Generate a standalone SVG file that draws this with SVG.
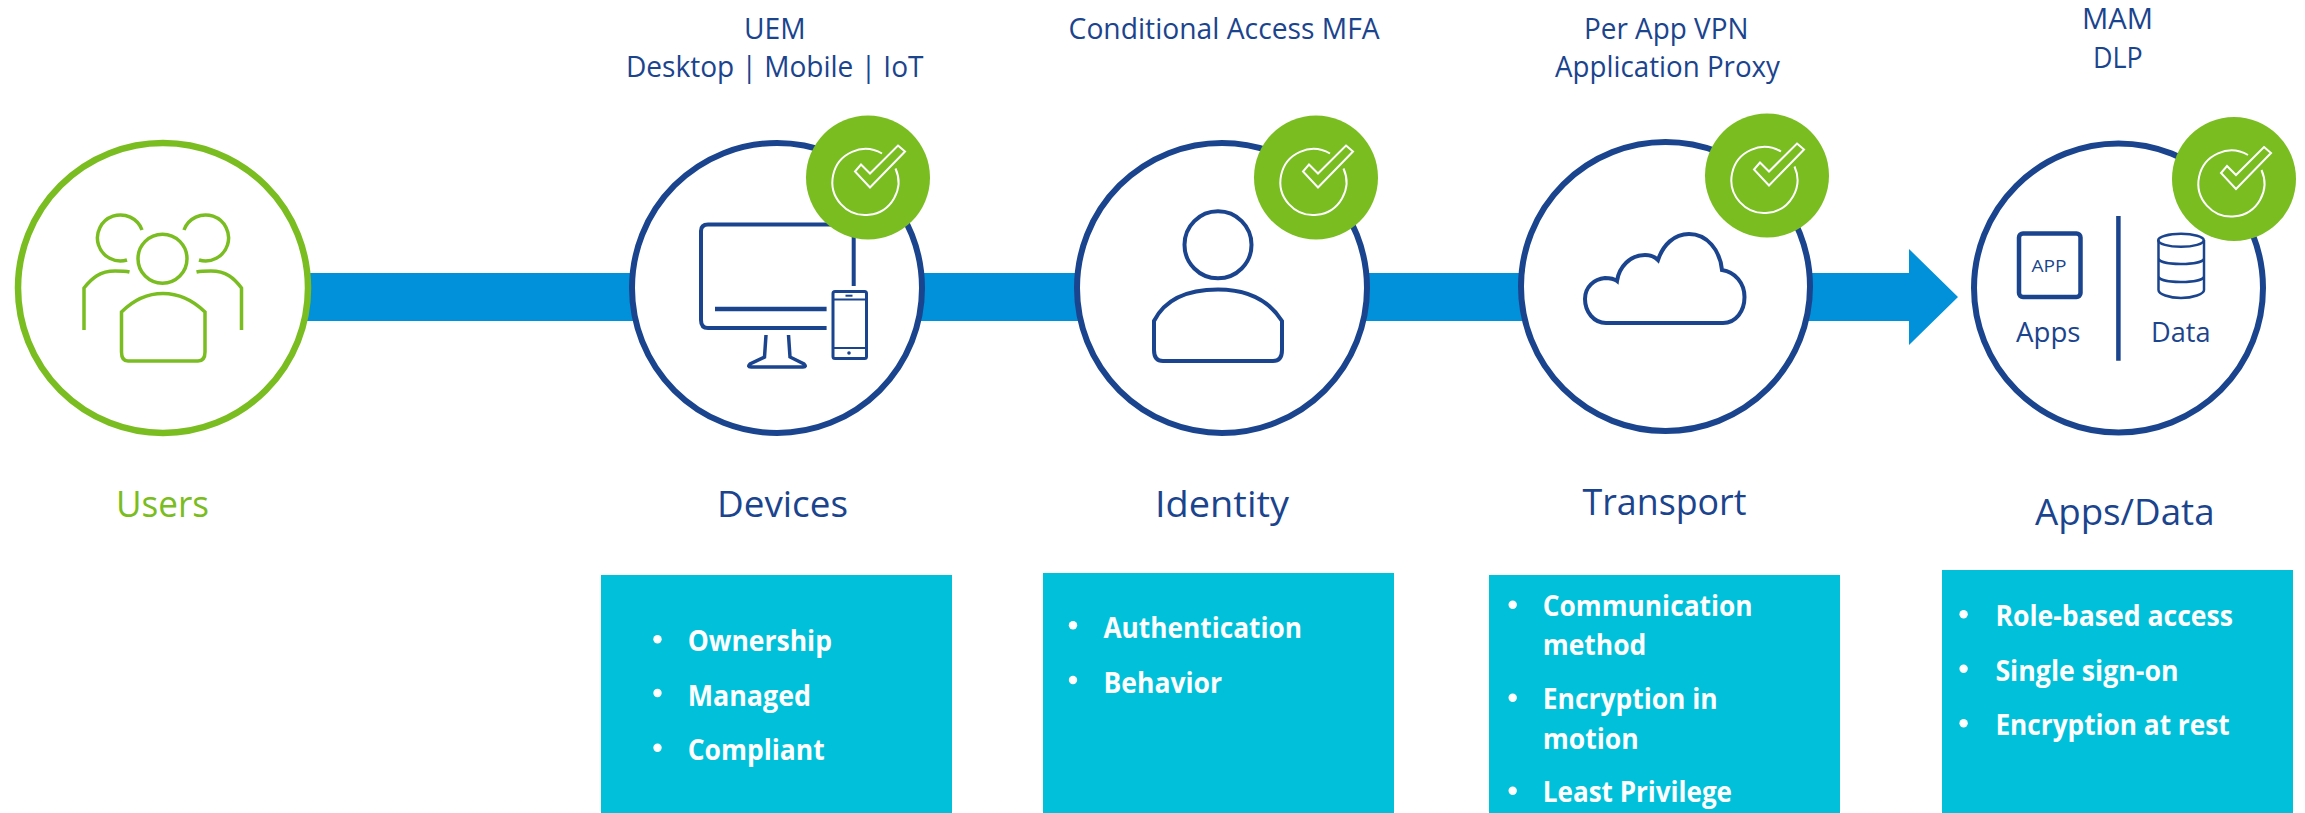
<svg xmlns="http://www.w3.org/2000/svg" xmlns:xlink="http://www.w3.org/1999/xlink" width="2305" height="813" viewBox="0 0 2305 813">
<style>
text{font-family:"Open Sans","Liberation Sans",sans-serif}
.t{fill:#1B448E}
.h{font-size:29.5px}
.n{font-size:36.5px}
.u{fill:#7ABD21}
.b{font-size:28.5px;font-weight:700;fill:#fff}
.o{fill:#fff;stroke:#1B448E;stroke-width:6}
.ug{fill:#fff;stroke:#7ABD21;stroke-width:6.5}
.i{fill:none;stroke:#1B448E;stroke-width:4}
.ui{fill:none;stroke:#7ABD21;stroke-width:3.5}
.box{fill:#00C1D9}
.dot{fill:#fff}
</style>
<defs>
<g id="badge">
<circle r="62" fill="#7ABD21"/>
<path d="M14 -24A33 33 0 1 0 27.5 -9M30 -32L37 -26L2 10L-13 -6L-7 -13L2 -4Z" fill="none" stroke="#fff" stroke-width="2"/>
</g>
</defs>
<g id="connectors">
<polygon points="300,273 1909,273 1909,249 1958,297 1909,345 1909,321 300,321" fill="#0091DA"/>
</g>
<g id="users">
<ellipse class="ug" cx="163" cy="288" rx="145" ry="145"/>
<circle class="ui" cx="162.5" cy="258.7" r="24.5"/>
<path class="ui" d="M121.5 312Q140 293.5 163 293.5Q186 293.5 205 312V352Q205 361 198 361H128Q121.5 361 121.5 352Z"/>
<path class="ui" d="M142 230A23 23 0 1 0 127 260M184 230A23 23 0 1 1 199 260"/>
<path class="ui" d="M129.5 272Q125 271 115 271C100 271 92 278 84 288V330M196.5 272Q201 271 211 271C226 271 234 278 241.5 288V330"/>
<text class="u" x="116" y="516.7" font-size="36.5" textLength="93" lengthAdjust="spacingAndGlyphs">Users</text>
</g>
<g id="devices">
<ellipse class="o" cx="777" cy="288" rx="145" ry="145"/>
<path class="i" d="M853.7 286V224.5H708Q701 224.5 701 231V320Q701 328 708 328H826.6"/>
<path d="M715 309H826.6" class="i" style="stroke-width:4.5"/>
<path class="i" style="stroke-width:3.5" d="M766 335L764.5 357L750 364Q747 367 751 367H803Q807 367 804 364L790 357L788.5 335"/>
<rect class="i" x="833" y="291.5" width="33.5" height="67" rx="2" style="stroke-width:3"/>
<path class="i" d="M833 299.5H866.5M833 348H866.5" style="stroke-width:2"/>
<rect x="845.5" y="294.7" width="7" height="2" fill="#1B448E"/>
<circle cx="849" cy="353" r="1.8" fill="#1B448E"/>
<use xlink:href="#badge" href="#badge" x="868" y="177.5"/>
<text class="t h" x="744" y="39" textLength="61.6" lengthAdjust="spacingAndGlyphs">UEM</text>
<text class="t h" x="626" y="76.7" textLength="297.5" lengthAdjust="spacingAndGlyphs">Desktop | Mobile | IoT</text>
<text class="t n" x="717" y="516.7" textLength="131" lengthAdjust="spacingAndGlyphs">Devices</text>
<rect class="box" x="601" y="575" width="351" height="238"/>
<circle class="dot" cx="657.5" cy="639.3" r="4.2"/><circle class="dot" cx="657.5" cy="693" r="4.2"/><circle class="dot" cx="657.5" cy="747.7" r="4.2"/>
<text class="b" x="687.7" y="651.2" textLength="144.3" lengthAdjust="spacingAndGlyphs">Ownership</text>
<text class="b" x="687.7" y="705.5" textLength="123.3" lengthAdjust="spacingAndGlyphs">Managed</text>
<text class="b" x="687.7" y="760" textLength="137" lengthAdjust="spacingAndGlyphs">Compliant</text>
</g>
<g id="identity">
<ellipse class="o" cx="1222" cy="288" rx="145" ry="145"/>
<ellipse class="i" cx="1218" cy="244.8" rx="33.5" ry="33.5"/>
<path class="i" d="M1154 321Q1170 289.5 1218 289.5Q1262 289.5 1282 321V350Q1282 361 1273 361H1163Q1154 361 1154 350Z"/>
<use xlink:href="#badge" href="#badge" x="1316" y="177.5"/>
<text class="t h" x="1068.6" y="39" textLength="311" lengthAdjust="spacingAndGlyphs">Conditional Access MFA</text>
<text class="t n" x="1155" y="516.7" textLength="134" lengthAdjust="spacingAndGlyphs">Identity</text>
<rect class="box" x="1043" y="573" width="351" height="240"/>
<circle class="dot" cx="1073" cy="625.3" r="4.2"/><circle class="dot" cx="1073" cy="680" r="4.2"/>
<text class="b" x="1103.5" y="637.8" textLength="198.5" lengthAdjust="spacingAndGlyphs">Authentication</text>
<text class="b" x="1103.5" y="692.5" textLength="118.5" lengthAdjust="spacingAndGlyphs">Behavior</text>
</g>
<g id="transport">
<ellipse class="o" cx="1665.5" cy="286.5" rx="144.5" ry="144.5"/>
<path class="i" d="M1606 323H1723C1736 323 1744.5 311 1744.5 297C1744.5 283 1735 272 1722 270C1720 250 1707 234 1689 234C1674 234 1663 245 1658 260C1654 256 1649 255 1645 255C1630 255 1619 267 1617 281C1613 278 1609 278 1605 278C1594 279 1585 287 1585 299C1585 312 1594 323 1606 323Z"/>
<use xlink:href="#badge" href="#badge" x="1767" y="175.5"/>
<text class="t h" x="1584" y="39" textLength="164.5" lengthAdjust="spacingAndGlyphs">Per App VPN</text>
<text class="t h" x="1555" y="76.7" textLength="225" lengthAdjust="spacingAndGlyphs">Application Proxy</text>
<text class="t n" x="1582.5" y="515" textLength="164" lengthAdjust="spacingAndGlyphs">Transport</text>
<rect class="box" x="1489" y="575" width="351" height="238"/>
<circle class="dot" cx="1512.7" cy="604.7" r="4.2"/><circle class="dot" cx="1512.7" cy="697.7" r="4.2"/><circle class="dot" cx="1512.7" cy="790.7" r="4.2"/>
<text class="b" x="1542.8" y="616" textLength="209.8" lengthAdjust="spacingAndGlyphs">Communication</text>
<text class="b" x="1542.8" y="655.3" textLength="103.5" lengthAdjust="spacingAndGlyphs">method</text>
<text class="b" x="1542.8" y="709.3" textLength="174.9" lengthAdjust="spacingAndGlyphs">Encryption in</text>
<text class="b" x="1542.8" y="748.7" textLength="95.9" lengthAdjust="spacingAndGlyphs">motion</text>
<text class="b" x="1542.8" y="802" textLength="189.2" lengthAdjust="spacingAndGlyphs">Least Privilege</text>
</g>
<g id="apps-data">
<ellipse class="o" cx="2118.5" cy="288" rx="144.5" ry="144.5"/>
<rect class="i" x="2019" y="233.5" width="61.5" height="63.5" rx="4" style="stroke-width:4.5"/>
<text class="t" x="2031.5" y="271.7" font-size="17" textLength="35" lengthAdjust="spacingAndGlyphs">APP</text>
<path d="M2118.4 216V360.700" class="i" style="stroke-width:4.5"/>
<path class="i" style="stroke-width:2.5" d="M2158.5 240V290C2158.5 294 2169 298 2181 298C2193 298 2204 294 2204 290V240M2158.500 258C2158.500 262 2169 264 2181 264C2193 264 2204 262 2204 258M2158.500 276C2158.500 280 2169 282 2181 282C2193 282 2204 280 2204 276"/>
<ellipse class="i" style="stroke-width:2.5" cx="2181" cy="240.3" rx="22.8" ry="6.5"/>
<text class="t" x="2016" y="341.7" font-size="27.5" textLength="64.5" lengthAdjust="spacingAndGlyphs">Apps</text>
<text class="t" x="2151" y="341.7" font-size="27.5" textLength="59.5" lengthAdjust="spacingAndGlyphs">Data</text>
<use xlink:href="#badge" href="#badge" x="2234" y="179"/>
<text class="t h" x="2082" y="29" textLength="71" lengthAdjust="spacingAndGlyphs">MAM</text>
<text class="t h" x="2093" y="67.7" textLength="49.7" lengthAdjust="spacingAndGlyphs">DLP</text>
<text class="t n" x="2035" y="524.7" textLength="179.6" lengthAdjust="spacingAndGlyphs">Apps/Data</text>
<rect class="box" x="1942" y="570" width="351" height="243"/>
<circle class="dot" cx="1963.6" cy="614.3" r="4.2"/><circle class="dot" cx="1963.6" cy="668.7" r="4.2"/><circle class="dot" cx="1963.6" cy="723.3" r="4.2"/>
<text class="b" x="1995.4" y="626" textLength="237.6" lengthAdjust="spacingAndGlyphs">Role-based access</text>
<text class="b" x="1995.4" y="680.5" textLength="183.1" lengthAdjust="spacingAndGlyphs">Single sign-on</text>
<text class="b" x="1995.4" y="735" textLength="234.3" lengthAdjust="spacingAndGlyphs">Encryption at rest</text>
</g>
</svg>
